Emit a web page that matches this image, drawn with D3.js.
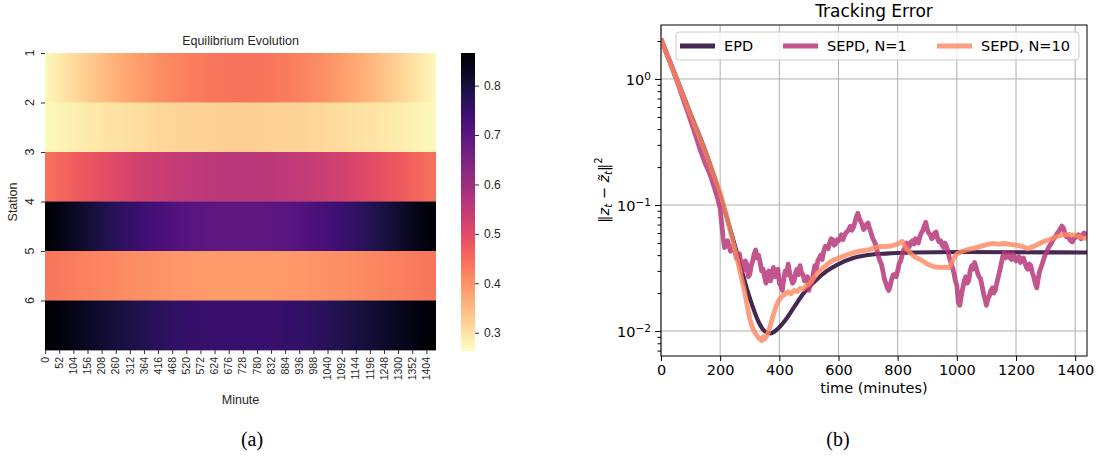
<!DOCTYPE html>
<head>
  <meta charset="utf-8">
  <script src="https://d3js.org/d3.v7.min.js"></script>
  <style>
    body { margin:0; background:#fff; }
    .hm text { font-family: "Liberation Sans", Arial, sans-serif; fill:#262626; }
    .hm .domain { display:none; }
    .hm .tick line { stroke:#333; }
    .mpl text { font-family: "DejaVu Sans", sans-serif; fill:#000; }
    .mpl .domain { display:none; }
    .grid line { stroke:#b0b0b0; stroke-width:1; }
    .cap { font-family: "Liberation Serif", "Times New Roman", serif; font-size:20px; }
  </style>
</head>

<body>
  <script>
  // ---------- heatmap data: station value, sampled every 60 minutes ----------
    var minutes = [0,60,120,180,240,300,360,420,480,540,600,660,720,780,840,900,960,1020,1080,1140,1200,1260,1320,1380,1440];
    var station1 = [0.270,0.292,0.314,0.335,0.355,0.374,0.390,0.405,0.417,0.427,0.434,0.438,0.440,0.438,0.434,0.427,0.417,0.405,0.390,0.374,0.355,0.335,0.314,0.292,0.270];
    var station2 = [0.268,0.275,0.282,0.289,0.296,0.301,0.307,0.312,0.316,0.319,0.321,0.323,0.323,0.323,0.321,0.319,0.316,0.312,0.307,0.301,0.296,0.289,0.282,0.275,0.268];
    var station3 = [0.440,0.456,0.471,0.486,0.500,0.513,0.525,0.535,0.544,0.551,0.556,0.559,0.560,0.559,0.556,0.551,0.544,0.535,0.525,0.513,0.500,0.486,0.471,0.456,0.440];
    var station4 = [0.866,0.843,0.821,0.799,0.778,0.759,0.742,0.727,0.714,0.704,0.697,0.693,0.691,0.693,0.697,0.704,0.714,0.727,0.742,0.759,0.778,0.799,0.821,0.843,0.866];
    var station5 = [0.437,0.431,0.425,0.419,0.414,0.408,0.404,0.400,0.396,0.394,0.392,0.390,0.390,0.390,0.392,0.394,0.396,0.400,0.404,0.408,0.414,0.419,0.425,0.431,0.437];
    var station6 = [0.866,0.850,0.835,0.820,0.806,0.793,0.781,0.771,0.762,0.755,0.750,0.747,0.746,0.747,0.750,0.755,0.762,0.771,0.781,0.793,0.806,0.820,0.835,0.850,0.866];
    var stations = [station1, station2, station3, station4, station5, station6];
    var stationNames = ["1","2","3","4","5","6"];
    var minuteTicks = [0,52,104,156,208,260,312,364,416,468,520,572,624,676,728,780,832,884,936,988,1040,1092,1144,1196,1248,1300,1352,1404];
    var colorTicks = [0.3,0.4,0.5,0.6,0.7,0.8];
    var vmin = 0.263, vmax = 0.866;

  // ---------- tracking error data ----------
    var epdMinutes = [0,50,100,150,200,250,300,330,350,370,390,420,450,480,520,560,600,650,700,760,850,1000,1200,1440];
    var epdError = [2.08,1.056,0.528,0.268,0.120,0.0473,0.0183,0.0118,0.0100,0.0096,0.0102,0.0122,0.0155,0.0197,0.0249,0.0299,0.0340,0.0380,0.0401,0.0412,0.0420,0.0424,0.0422,0.0420];

    // SEPD, N=1 as [minute, error] pairs
    var sepd1Points = [
      [0,2.05],[10,1.80],[20,1.56],[30,1.36],[40,1.18],[50,1.02],[60,0.88],[70,0.75],[80,0.64],[90,0.55],
      [100,0.47],[110,0.40],[120,0.34],[130,0.285],[140,0.245],[150,0.212],[160,0.188],[170,0.163],[180,0.138],[190,0.116],
      [200,0.094],[205,0.072],[210,0.055],[215,0.046],[220,0.050],[225,0.052],[230,0.047],[235,0.043],[240,0.045],[245,0.048],
      [250,0.043],[255,0.038],[260,0.040],[265,0.041],[270,0.035],[275,0.030],[280,0.031],[285,0.036],[290,0.034],[295,0.027],
      [300,0.028],[305,0.033],[310,0.036],[315,0.041],[320,0.044],[325,0.038],[330,0.040],[335,0.035],[340,0.030],[345,0.031],
      [350,0.027],[355,0.024],[360,0.029],[365,0.030],[370,0.025],[375,0.028],[380,0.032],[385,0.027],[390,0.029],[395,0.031],
      [400,0.024],[405,0.023],[410,0.021],[415,0.026],[420,0.030],[425,0.028],[430,0.034],[435,0.029],[440,0.026],[445,0.024],
      [450,0.025],[455,0.029],[460,0.031],[465,0.028],[470,0.033],[475,0.029],[480,0.028],[485,0.025],[490,0.026],[495,0.027],
      [500,0.021],[505,0.025],[510,0.024],[515,0.029],[520,0.033],[525,0.031],[530,0.036],[535,0.038],[540,0.040],[545,0.037],
      [550,0.043],[555,0.047],[560,0.046],[565,0.045],[570,0.050],[575,0.054],[580,0.053],[585,0.048],[590,0.049],[595,0.053],
      [600,0.052],[605,0.055],[610,0.058],[615,0.053],[620,0.057],[625,0.060],[630,0.062],[635,0.064],[640,0.068],[645,0.063],
      [650,0.066],[655,0.072],[660,0.080],[665,0.086],[670,0.079],[675,0.074],[680,0.070],[685,0.064],[690,0.066],[695,0.070],
      [700,0.072],[705,0.065],[710,0.060],[715,0.055],[720,0.052],[725,0.049],[730,0.044],[735,0.039],[740,0.036],[745,0.034],
      [750,0.030],[755,0.026],[760,0.024],[765,0.022],[770,0.021],[775,0.023],[780,0.026],[785,0.028],[790,0.028],[795,0.027],
      [800,0.030],[805,0.034],[810,0.036],[815,0.040],[820,0.044],[825,0.046],[830,0.050],[835,0.045],[840,0.047],[845,0.051],
      [850,0.052],[855,0.049],[860,0.054],[865,0.053],[870,0.050],[875,0.056],[880,0.060],[885,0.063],[890,0.068],[895,0.073],
      [900,0.064],[905,0.060],[910,0.058],[915,0.054],[920,0.056],[925,0.060],[930,0.061],[935,0.054],[940,0.051],[945,0.052],
      [950,0.048],[955,0.046],[960,0.050],[965,0.047],[970,0.043],[975,0.038],[980,0.035],[985,0.032],[990,0.029],[995,0.025],
      [1000,0.023],[1005,0.017],[1010,0.016],[1015,0.019],[1020,0.022],[1025,0.025],[1030,0.027],[1035,0.024],[1040,0.025],[1045,0.030],
      [1050,0.033],[1055,0.031],[1060,0.035],[1065,0.032],[1070,0.029],[1075,0.027],[1080,0.026],[1085,0.023],[1090,0.020],[1095,0.018],
      [1100,0.016],[1105,0.018],[1110,0.019],[1115,0.021],[1120,0.022],[1125,0.020],[1130,0.021],[1135,0.024],[1140,0.027],[1145,0.030],
      [1150,0.034],[1155,0.039],[1160,0.042],[1165,0.038],[1170,0.040],[1175,0.041],[1180,0.038],[1185,0.037],[1190,0.041],[1195,0.038],
      [1200,0.036],[1205,0.038],[1210,0.039],[1215,0.035],[1220,0.037],[1225,0.038],[1230,0.035],[1235,0.032],[1240,0.031],[1245,0.034],
      [1250,0.033],[1255,0.029],[1260,0.027],[1265,0.024],[1270,0.022],[1275,0.026],[1280,0.030],[1285,0.032],[1290,0.035],[1295,0.038],
      [1300,0.041],[1305,0.043],[1310,0.046],[1315,0.048],[1320,0.050],[1325,0.053],[1330,0.055],[1335,0.057],[1340,0.060],[1345,0.062],
      [1350,0.065],[1355,0.068],[1360,0.066],[1365,0.060],[1370,0.056],[1375,0.057],[1380,0.054],[1385,0.052],[1390,0.051],[1395,0.054],
      [1400,0.055],[1405,0.056],[1410,0.058],[1415,0.056],[1420,0.054],[1425,0.058],[1430,0.060],[1435,0.059],[1440,0.057]
    ];

    var sepd10Minutes = [0,50,100,150,200,220,240,260,280,300,310,320,330,340,345,350,360,370,380,390,400,410,420,430,440,450,460,470,480,490,500,510,520,530,540,550,560,570,580,590,600,620,640,660,680,700,720,740,760,780,800,815,830,840,860,880,900,920,940,960,975,990,1000,1020,1040,1060,1080,1100,1120,1140,1160,1180,1200,1220,1240,1260,1280,1300,1320,1340,1360,1380,1400,1420,1440];
    var sepd10Error = [2.08,1.04,0.52,0.265,0.125,0.085,0.055,0.035,0.022,0.0125,0.0105,0.0095,0.0088,0.0084,0.0090,0.0086,0.0094,0.0112,0.0135,0.0160,0.0178,0.0190,0.0196,0.0205,0.0198,0.0210,0.0206,0.0218,0.0214,0.0228,0.0235,0.0250,0.0270,0.0290,0.0305,0.0320,0.0335,0.0350,0.0362,0.0372,0.0380,0.0395,0.0410,0.0425,0.0435,0.0440,0.0455,0.0470,0.0468,0.0475,0.0490,0.0515,0.0450,0.0420,0.0385,0.0365,0.0340,0.0325,0.0320,0.0322,0.0318,0.0380,0.0410,0.0430,0.0445,0.0455,0.0470,0.0485,0.0495,0.0490,0.0495,0.0488,0.0480,0.0470,0.0450,0.0470,0.0495,0.0520,0.0540,0.0565,0.0580,0.0585,0.0575,0.0555,0.0540];

    var seriesNames = ["EPD", "SEPD, N=1", "SEPD, N=10"];
    var timeTicks = [0,200,400,600,800,1000,1200,1400];
    var errorMajor = [0.01, 0.1, 1];
    var errorMajorExp = ["\u22122", "\u22121", "0"];
    var errorMinor = [0.007,0.008,0.009,0.02,0.03,0.04,0.05,0.06,0.07,0.08,0.09,0.2,0.3,0.4,0.5,0.6,0.7,0.8,0.9,2];

  // ---------- svg ----------
    var svg = d3.select("body").append("svg")
      .attr("width", 1098)
      .attr("height", 460);
    var defs = svg.append("defs");

  // ================= (a) heatmap =================
    var hm = svg.append("g").attr("class", "hm");
    var hx = d3.scaleLinear().domain([0, 1440]).range([45, 436]);
    var hxc = d3.scaleLinear().domain([-0.5, 1439.5]).range([45, 436]);
    var hy = d3.scaleLinear().domain([0, 6]).range([53, 350]);
    var color = d3.scaleSequential(t => d3.interpolateMagma(1 - t)).domain([vmin, vmax]);

    stations.forEach(function(vals, i) {
      var grad = defs.append("linearGradient").attr("id", "row" + i)
        .attr("x1", 0).attr("x2", 1).attr("y1", 0).attr("y2", 0);
      vals.forEach(function(v, j) {
        grad.append("stop").attr("offset", minutes[j] / 1440).attr("stop-color", color(v));
      });
    });

    hm.selectAll("rect.row").data(stations).join("rect")
      .attr("class", "row")
      .attr("x", hx(0))
      .attr("width", hx(1440) - hx(0))
      .attr("y", (d, i) => hy(i))
      .attr("height", (d, i) => hy(i + 1) - hy(i) + 0.4)
      .attr("fill", (d, i) => "url(#row" + i + ")");

    // y ticks (at the top of each row, like the original)
    hm.append("g").attr("transform", "translate(45,0)")
      .call(d3.axisLeft(hy).tickValues([0,1,2,3,4,5]).tickSize(4).tickFormat(""));
    hm.selectAll("text.ylab").data(stationNames).join("text")
      .attr("class", "ylab")
      .attr("transform", (d, i) => "translate(34," + hy(i) + ") rotate(-90)")
      .attr("text-anchor", "middle")
      .style("font-size", "12.5px")
      .text(d => d);

    // x ticks
    hm.append("g").attr("transform", "translate(0,350)")
      .call(d3.axisBottom(hxc).tickValues(minuteTicks).tickSize(4).tickFormat(""));
    hm.selectAll("text.xlab").data(minuteTicks).join("text")
      .attr("class", "xlab")
      .attr("transform", d => "translate(" + hxc(d) + ",357) rotate(-90)")
      .attr("text-anchor", "end")
      .attr("dy", "0.35em")
      .style("font-size", "10.5px")
      .text(d => d);

    hm.append("text").attr("x", 240.5).attr("y", 45).attr("text-anchor", "middle")
      .style("font-size", "12.5px").text("Equilibrium Evolution");
    hm.append("text").attr("x", 240.5).attr("y", 404).attr("text-anchor", "middle")
      .style("font-size", "12.5px").text("Minute");
    hm.append("text").attr("transform", "translate(17,202) rotate(-90)").attr("text-anchor", "middle")
      .style("font-size", "12.5px").text("Station");

    // colorbar
    var cy = d3.scaleLinear().domain([vmin, vmax]).range([351, 53]);
    var cgrad = defs.append("linearGradient").attr("id", "cbar")
      .attr("x1", 0).attr("x2", 0).attr("y1", 1).attr("y2", 0);
    d3.range(0, 1.0001, 0.05).forEach(function(s) {
      cgrad.append("stop").attr("offset", s).attr("stop-color", d3.interpolateMagma(1 - s));
    });
    hm.append("rect").attr("x", 461).attr("y", 53).attr("width", 14).attr("height", 298)
      .attr("fill", "url(#cbar)");
    var cax = hm.append("g").attr("transform", "translate(475,0)")
      .call(d3.axisRight(cy).tickValues(colorTicks).tickSize(4).tickPadding(5).tickFormat(d3.format(".1f")));
    cax.selectAll("text").style("font-size", "12px");

  // ================= (b) tracking error =================
    var mpl = svg.append("g").attr("class", "mpl");
    var pL = 661, pR = 1087, pT = 25, pB = 356;
    var x = d3.scaleLinear().domain([0, 1440]).range([pL, pR]);
    var y = d3.scaleLog().domain([0.00634, 2.68]).range([pB, pT]);

    var grid = mpl.append("g").attr("class", "grid");
    grid.selectAll("line.gx").data(timeTicks).join("line").attr("class", "gx")
      .attr("x1", d => x(d)).attr("x2", d => x(d)).attr("y1", pT).attr("y2", pB);
    grid.selectAll("line.gy").data(errorMajor).join("line").attr("class", "gy")
      .attr("x1", pL).attr("x2", pR).attr("y1", d => y(d)).attr("y2", d => y(d));

    defs.append("clipPath").attr("id", "plotclip").append("rect")
      .attr("x", pL).attr("y", pT).attr("width", pR - pL).attr("height", pB - pT);

    var palette = ["#3a1c48", "#b73779", "#fc8961"];
    var opac = [0.95, 0.85, 0.82];
    var series = [
      {pts: epdMinutes.map((m, j) => [m, epdError[j]]), curve: d3.curveMonotoneX, w: 4.2},
      {pts: sepd1Points, curve: d3.curveLinear, w: 4.8},
      {pts: sepd10Minutes.map((m, j) => [m, sepd10Error[j]]), curve: d3.curveLinear, w: 4.8}
    ];
    var lines = mpl.append("g").attr("clip-path", "url(#plotclip)");
    series.forEach(function(s, i) {
      var line = d3.line().curve(s.curve).x(d => x(d[0])).y(d => y(d[1]));
      lines.append("path")
        .datum(s.pts)
        .attr("d", line)
        .attr("fill", "none")
        .attr("stroke", palette[i])
        .attr("stroke-opacity", opac[i])
        .attr("stroke-width", s.w)
        .attr("stroke-linejoin", "round");
    });

    // frame
    mpl.append("rect").attr("x", pL).attr("y", pT).attr("width", pR - pL).attr("height", pB - pT)
      .attr("fill", "none").attr("stroke", "#000").attr("stroke-width", 1);

    // axes
    var xa = mpl.append("g").attr("transform", "translate(0," + pB + ")")
      .call(d3.axisBottom(x).tickValues(timeTicks).tickSize(5).tickPadding(4).tickFormat(d3.format("d")));
    xa.selectAll("text").style("font-size", "14.5px");
    xa.selectAll("line").attr("stroke", "#000");

    mpl.append("g").attr("transform", "translate(" + pL + ",0)")
      .call(d3.axisLeft(y).tickValues(errorMinor).tickSize(3.5).tickFormat(""))
      .selectAll("line").attr("stroke", "#000");
    var ya = mpl.append("g").attr("transform", "translate(" + pL + ",0)")
      .call(d3.axisLeft(y).tickValues(errorMajor).tickSize(6).tickPadding(4).tickFormat(""));
    ya.selectAll("line").attr("stroke", "#000");
    ya.selectAll(".tick text").each(function(d, i) {
      var t = d3.select(this).style("font-size", "14.5px").attr("dy", "0.38em");
      t.text("10");
      t.append("tspan").attr("dy", "-0.45em").style("font-size", "10.5px").text(errorMajorExp[i]);
    });

    mpl.append("text").attr("x", (pL + pR) / 2).attr("y", 17).attr("text-anchor", "middle")
      .style("font-size", "17px").text("Tracking Error");
    mpl.append("text").attr("x", (pL + pR) / 2).attr("y", 393).attr("text-anchor", "middle")
      .style("font-size", "14.5px").text("time (minutes)");

    var yl = mpl.append("text").attr("transform", "translate(609,190) rotate(-90)")
      .attr("text-anchor", "middle").style("font-size", "14.5px");
    yl.append("tspan").text("\u2016");
    yl.append("tspan").style("font-style", "italic").text("z");
    yl.append("tspan").attr("dy", 3).style("font-size", "10px").style("font-style", "italic").text("t");
    yl.append("tspan").attr("dy", -3).text(" \u2212 ");
    yl.append("tspan").style("font-style", "italic").text("z\u0303");
    yl.append("tspan").attr("dy", 3).style("font-size", "10px").style("font-style", "italic").text("t");
    yl.append("tspan").attr("dy", -3).text("\u2016");
    yl.append("tspan").attr("dy", -7).style("font-size", "10px").text("2");

    // legend
    var lg = mpl.append("g");
    lg.append("rect").attr("x", 676).attr("y", 32).attr("width", 403).attr("height", 28).attr("rx", 3)
      .attr("fill", "#fff").attr("fill-opacity", 0.8).attr("stroke", "#cccccc");
    var lgX = [680, 783, 937];
    seriesNames.forEach(function(name, i) {
      lg.append("line").attr("x1", lgX[i]).attr("x2", lgX[i] + 35).attr("y1", 46).attr("y2", 46)
        .attr("stroke", palette[i]).attr("stroke-opacity", opac[i]).attr("stroke-width", 4.8);
      lg.append("text").attr("x", lgX[i] + 44).attr("y", 51).style("font-size", "14.5px").text(name);
    });

  // ---------- captions ----------
    svg.append("text").attr("class", "cap").attr("x", 252).attr("y", 446).attr("text-anchor", "middle").text("(a)");
    svg.append("text").attr("class", "cap").attr("x", 838).attr("y", 446).attr("text-anchor", "middle").text("(b)");
  </script>
</body>
